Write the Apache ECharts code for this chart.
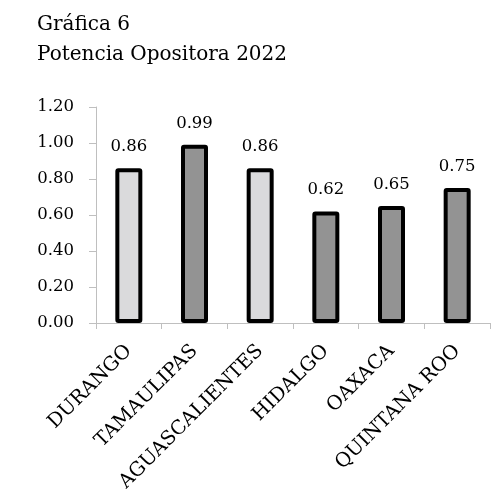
<!DOCTYPE html>
<html><head><meta charset="utf-8">
<script src="https://cdn.jsdelivr.net/npm/echarts@6/dist/echarts.min.js"></script>
<style>html,body{margin:0;padding:0;background:#fff}#c{width:503px;height:502px}</style>
</head><body><div id="c"></div>
<script>
const categories = ["DURANGO","TAMAULIPAS","AGUASCALIENTES","HIDALGO","OAXACA","QUINTANA ROO"];
const values = [0.86,0.99,0.86,0.62,0.65,0.75];
const barColors = ["#DADADC","#939393","#DADADC","#939393","#939393","#939393"];
const yTicks = [0,0.2,0.4,0.6,0.8,1.0,1.2];
const FONT = "DejaVu Serif";
const chart = echarts.init(document.getElementById('c'));
chart.setOption({
  animation:false,
  title:{text:"Gráfica 6\nPotencia Opositora 2022",left:32,top:5,
    textStyle:{fontFamily:FONT,fontSize:20,fontWeight:'normal',color:'#000',lineHeight:30}},
  grid:{left:96,right:13,top:107,bottom:179,containLabel:false},
  xAxis:{type:'category',data:categories,
    axisLine:{lineStyle:{color:'#BFBFBF',width:1}},
    axisTick:{show:true,length:6,lineStyle:{color:'#BFBFBF'}},
    axisLabel:{rotate:45,margin:25,fontFamily:FONT,fontSize:19.5,color:'#000',interval:0}},
  yAxis:{type:'value',min:yTicks[0],max:yTicks[yTicks.length-1],interval:0.2,
    axisLine:{show:true,lineStyle:{color:'#BFBFBF',width:1}},
    axisTick:{show:true,length:7,lineStyle:{color:'#BFBFBF'}},
    splitLine:{show:false},
    axisLabel:{margin:22,fontFamily:FONT,fontSize:16.5,color:'#000',formatter:v=>v.toFixed(2)}},
  series:[{type:'bar',barWidth:27,
    data:values.map((v,i)=>({value:v,itemStyle:{color:barColors[i]}})),
    itemStyle:{borderColor:'#000',borderWidth:4,borderRadius:1},
    label:{show:true,position:'top',distance:13,fontFamily:FONT,fontSize:16.5,color:'#000',formatter:p=>p.value.toFixed(2)}}]
});
</script></body></html>
